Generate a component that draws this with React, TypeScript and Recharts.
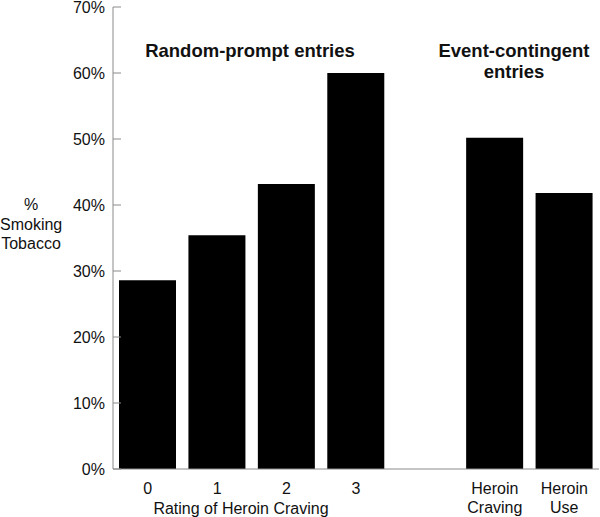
import React from "react";
import { BarChart, Bar, XAxis, YAxis } from "recharts";

// categories (blank slot separates the two groups)
const categories = ["0", "1", "2", "3", "", "Heroin\nCraving", "Heroin\nUse"];
const smokingPct = [28.6, 35.4, 43.2, 60.0, null, 50.2, 41.8];
const yTicks = [0, 10, 20, 30, 40, 50, 60, 70];

const data = categories.map((cat, i) => ({ cat, value: smokingPct[i] }));

const FONT = "'Liberation Sans', Arial, sans-serif";
const AXIS = "#8a8a8a";

const YTick = (props: any) => {
  const { x, y, payload } = props;
  return (
    <g>
      <line x1={x + 8} x2={x + 16} y1={y} y2={y} stroke={AXIS} strokeWidth={1} />
      <text x={x} y={y} dy="0.36em" textAnchor="end" fontSize={16} fill="#111" fontFamily={FONT}>
        {payload.value}%
      </text>
    </g>
  );
};

const XTick = (props: any) => {
  const { x, y, payload } = props;
  const lines = String(payload.value).split("\n");
  return (
    <text x={x} y={y} textAnchor="middle" fontSize={16} fill="#111" fontFamily={FONT}>
      {lines.map((l, i) => (
        <tspan key={i} x={x} dy={i === 0 ? 25 : 19}>
          {l}
        </tspan>
      ))}
    </text>
  );
};

const abs = (left: number, top: number, width: number, extra: React.CSSProperties = {}): React.CSSProperties => ({
  position: "absolute",
  left,
  top,
  width,
  textAlign: "center",
  fontFamily: FONT,
  color: "#111",
  ...extra,
});

export default function App() {
  return (
    <div style={{ position: "absolute", left: 0, top: 0, width: 600, height: 517, background: "#fff" }}>
      <BarChart width={600} height={517} data={data} margin={{ top: 7, right: 1, bottom: 0, left: 0 }}>
        <XAxis
          dataKey="cat"
          interval={0}
          height={48}
          tickLine={false}
          tickSize={0}
          tickMargin={0}
          axisLine={{ stroke: AXIS }}
          tick={<XTick />}
        />
        <YAxis
          width={113}
          domain={[0, 70]}
          ticks={yTicks}
          interval={0}
          tickLine={false}
          tickSize={0}
          tickMargin={8}
          axisLine={{ stroke: AXIS }}
          tick={<YTick />}
        />
        <Bar dataKey="value" fill="#000" barSize={57} isAnimationActive={false} />
      </BarChart>

      <div style={abs(0, 195, 62, { fontSize: 16, lineHeight: "19.5px" })}>
        %<br />Smoking<br />Tobacco
      </div>
      <div style={abs(100, 39.5, 300, { fontSize: 18.5, fontWeight: "bold", lineHeight: "21px" })}>
        Random-prompt entries
      </div>
      <div style={abs(364, 40, 300, { fontSize: 18.5, fontWeight: "bold", lineHeight: "21px" })}>
        Event-contingent
        <br />
        entries
      </div>
      <div style={abs(91, 498.5, 300, { fontSize: 16, lineHeight: "19px" })}>Rating of Heroin Craving</div>
    </div>
  );
}
